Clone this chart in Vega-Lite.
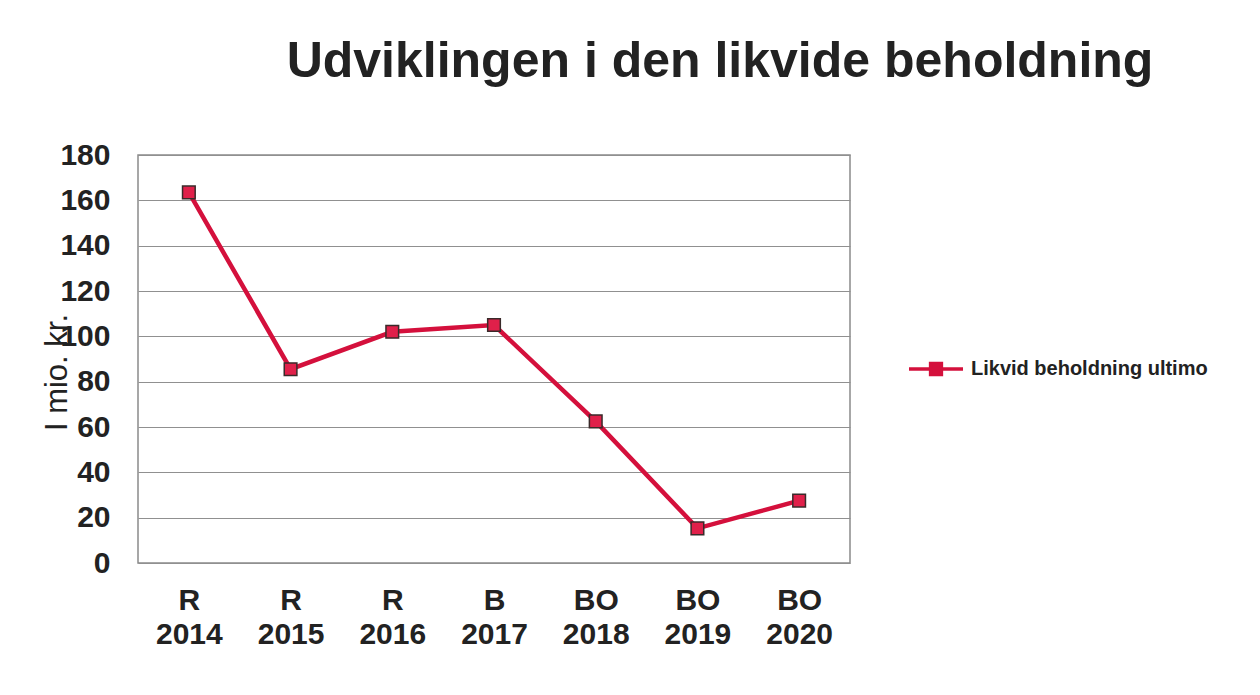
{
  "$schema": "https://vega.github.io/schema/vega-lite/v6.json",
  "width": 712,
  "height": 408,
  "autosize": "none",
  "padding": {"left": 138, "top": 155, "right": 410, "bottom": 132},
  "background": "white",
  "config": {"font": "Liberation Sans", "view": {"stroke": "#8a8a8a", "strokeWidth": 1.5}},
  "title": {"text": "Udviklingen i den likvide beholdning", "fontSize": 50, "font": "Liberation Sans", "fontWeight": "bold", "color": "#222222", "anchor": "middle", "frame": "group", "dx": 226, "offset": 13, "baseline": "alphabetic"},
  "data": {"values": [
    {"periode": "R 2014", "serie": "Likvid beholdning ultimo", "vaerdi": 163.5},
    {"periode": "R 2015", "serie": "Likvid beholdning ultimo", "vaerdi": 85.5},
    {"periode": "R 2016", "serie": "Likvid beholdning ultimo", "vaerdi": 102},
    {"periode": "B 2017", "serie": "Likvid beholdning ultimo", "vaerdi": 105},
    {"periode": "BO 2018", "serie": "Likvid beholdning ultimo", "vaerdi": 62.5},
    {"periode": "BO 2019", "serie": "Likvid beholdning ultimo", "vaerdi": 15.3},
    {"periode": "BO 2020", "serie": "Likvid beholdning ultimo", "vaerdi": 27.5}
  ]},
  "encoding": {
    "x": {"field": "periode", "type": "ordinal", "sort": null, "scale": {"type": "point", "padding": 0.5},
      "axis": {"title": null, "labelExpr": "split(datum.label, ' ')", "labelAngle": 0, "labelFontSize": 30, "labelFontWeight": "bold", "labelColor": "#222222", "labelLineHeight": 34, "labelPadding": 22, "ticks": false, "tickSize": 0, "domain": false, "grid": false}},
    "y": {"field": "vaerdi", "type": "quantitative", "scale": {"domain": [0, 180], "nice": false},
      "axis": {"values": [0, 20, 40, 60, 80, 100, 120, 140, 160, 180], "title": "I mio. kr.", "titleFontSize": 31, "titleFontWeight": "normal", "titleColor": "#222222", "titleX": -81, "titleY": 217, "titleAlign": "center", "titleBaseline": "middle", "titleAngle": -90, "labelFontSize": 30, "labelFontWeight": "bold", "labelColor": "#222222", "labelPadding": 28, "ticks": false, "tickSize": 0, "domain": false, "gridColor": "#909090", "gridWidth": 1.2}}
  },
  "layer": [
    {"mark": {"type": "line", "strokeWidth": 4.5},
     "encoding": {"color": {"field": "serie", "type": "nominal", "scale": {"range": ["#d4103c"]},
       "legend": {"title": null, "orient": "none", "legendX": 769, "legendY": 185, "symbolType": "M-1,0H1M-0.2,-0.2H0.2V0.2H-0.2Z", "symbolSize": 2916, "symbolStrokeWidth": 3.5, "symbolFillColor": "#d4103c", "symbolStrokeColor": "#d4103c", "labelFontSize": 20, "labelFontWeight": "bold", "labelColor": "#222222", "labelOffset": 6, "labelLimit": 400}}}},
    {"mark": {"type": "square", "size": 160, "fill": "#e0204a", "stroke": "#3a2a2a", "strokeWidth": 1.5, "opacity": 1, "fillOpacity": 1}}
  ]
}
